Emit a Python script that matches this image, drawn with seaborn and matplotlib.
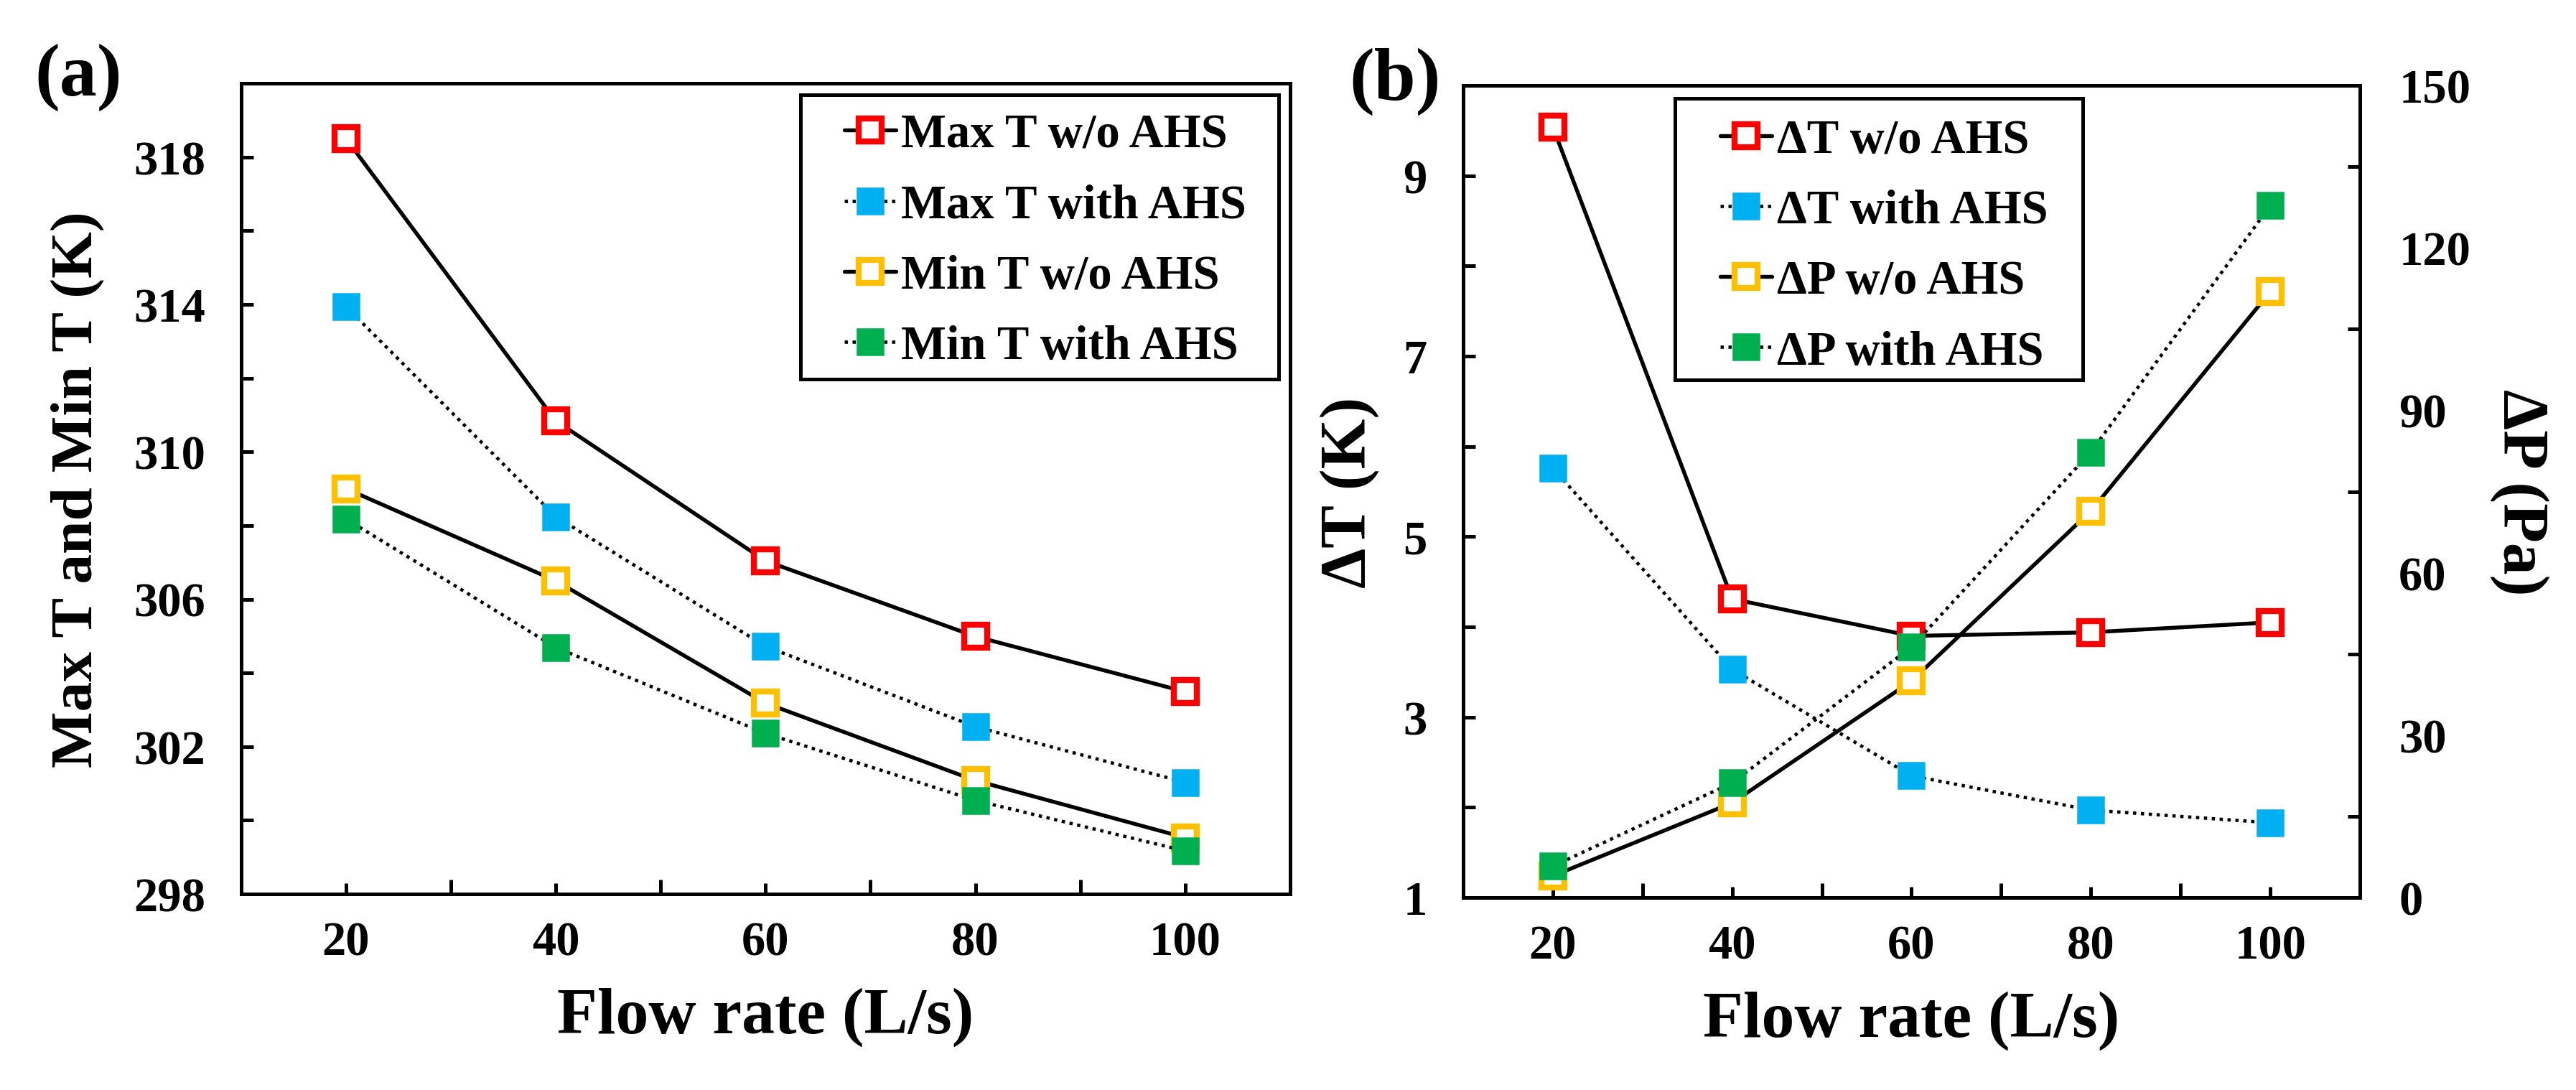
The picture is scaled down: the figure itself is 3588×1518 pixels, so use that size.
import matplotlib
matplotlib.use("Agg")
import matplotlib.pyplot as plt
from matplotlib.patches import Rectangle
from matplotlib.ticker import MultipleLocator, FixedLocator
import seaborn as sns

# debit (L/s)
flow = [20, 40, 60, 80, 100]

# (a) temperatures max et min (K)
maxT_wo = [318.50, 310.84, 307.04, 304.99, 303.49]
maxT_with = [313.94, 308.24, 304.72, 302.54, 301.03]
minT_wo = [309.00, 306.50, 303.18, 301.08, 299.53]
minT_with = [308.18, 304.69, 302.36, 300.54, 299.17]

# (b) ecart de temperature (K) et perte de charge (Pa)
dT_wo = [9.54, 4.31, 3.90, 3.94, 4.05]
dT_with = [5.76, 3.53, 2.35, 1.97, 1.83]
dP_wo = [4.0, 17.5, 40.0, 71.4, 111.9]
dP_with = [5.8, 21.2, 46.3, 82.3, 127.8]

lab_a = ["Max T w/o AHS", "Max T with AHS", "Min T w/o AHS", "Min T with AHS"]
lab_b = ["\u0394T w/o AHS", "\u0394T with AHS", "\u0394P w/o AHS", "\u0394P with AHS"]
couleurs = ["#FF0000", "#00B0F0", "#FFC000", "#00B050"]

sns.set_style("ticks")
plt.rcParams["font.family"] = ["Liberation Serif", "DejaVu Serif"]
plt.rcParams["font.weight"] = "bold"
plt.rcParams["axes.labelweight"] = "bold"
plt.rcParams["text.color"] = "black"
plt.rcParams["axes.labelcolor"] = "black"
plt.rcParams["xtick.color"] = "black"
plt.rcParams["ytick.color"] = "black"
plt.rcParams["axes.edgecolor"] = "black"
plt.rcParams["axes.linewidth"] = 1.2


#On trace une serie : carre vide + trait plein, ou carre plein + pointilles
def serie(ax, y, lab, col, vide):
    if vide:
        sns.lineplot(x=flow, y=y, ax=ax, color="black", lw=1.3, linestyle="-",
                     marker="s", ms=7.6, mfc="white", mec=col, mew=2.0, label=lab)
    else:
        sns.lineplot(x=flow, y=y, ax=ax, color="black", lw=1.1, linestyle=(0, (1, 1.4)),
                     marker="s", ms=8.6, mfc=col, mec=col, mew=0.6, label=lab)


def reglage_x(ax):
    ax.set_xlim(10, 110)
    ax.set_xticks(flow)
    ax.xaxis.set_minor_locator(FixedLocator([30, 50, 70, 90]))
    ax.tick_params(axis="x", which="major", direction="in", length=3.6, width=1.2,
                   labelsize=16, pad=9)
    ax.tick_params(axis="x", which="minor", direction="in", length=4.8, width=1.2)
    ax.set_xlabel("Flow rate (L/s)", fontsize=22, labelpad=7.5)


def cadre_legende(ax, x0, y0, w, h):
    ax.add_patch(Rectangle((x0, y0), w, h, transform=ax.transAxes, facecolor="white",
                           edgecolor="black", lw=1.2, zorder=4))


leg_kw = dict(loc="upper left", frameon=False, fontsize=16, borderpad=0, borderaxespad=0,
              labelspacing=0.556, handlelength=1.08, handletextpad=0.1)

fig = plt.figure(figsize=(11.96, 5.063), dpi=300)

# ---- (a)
ax = fig.add_axes([0.0936, 0.1797, 0.4072, 0.7433])
for y, lab, col, vide in zip([maxT_wo, maxT_with, minT_wo, minT_with], lab_a, couleurs,
                             [True, False, True, False]):
    serie(ax, y, lab, col, vide)
reglage_x(ax)
ax.set_ylim(298, 320)
ax.set_yticks([298, 302, 306, 310, 314, 318])
ax.yaxis.set_minor_locator(MultipleLocator(2))
ax.tick_params(axis="y", which="both", direction="in", length=4, width=1.2,
               labelsize=16, pad=12)
ax.set_ylabel("Max T and Min T (K)", fontsize=20, labelpad=9.5)
cadre_legende(ax, 0.533, 0.635, 0.456, 0.351)
ax.legend(bbox_to_anchor=(0.575, 0.963), **leg_kw).set_zorder(5)

# ---- (b)
bx = fig.add_axes([0.568, 0.1764, 0.3481, 0.7446])
bx2 = bx.twinx()
serie(bx, dT_wo, lab_b[0], couleurs[0], True)
serie(bx, dT_with, lab_b[1], couleurs[1], False)
serie(bx2, dP_wo, lab_b[2], couleurs[2], True)
serie(bx2, dP_with, lab_b[3], couleurs[3], False)
reglage_x(bx)
bx.set_ylim(1, 10)
bx.set_yticks([1, 3, 5, 7, 9])
bx.yaxis.set_minor_locator(MultipleLocator(1))
bx.tick_params(axis="y", which="both", direction="in", length=4, width=1.2,
               labelsize=16, pad=12)
bx.set_ylabel("\u0394T (K)", fontsize=21.5, labelpad=8)
bx2.set_ylim(0, 150)
bx2.set_yticks([0, 30, 60, 90, 120, 150])
bx2.yaxis.set_minor_locator(MultipleLocator(15))
bx2.tick_params(axis="y", which="major", direction="in", length=0, labelsize=16, pad=13)
bx2.tick_params(axis="y", which="minor", direction="in", length=4, width=1.2)
bx2.set_ylabel("\u0394P (Pa)", fontsize=21.5, rotation=270, va="bottom", labelpad=6.5)

h1, l1 = bx.get_legend_handles_labels()
h2, l2 = bx2.get_legend_handles_labels()
if bx.get_legend() is not None:
    bx.get_legend().remove()
cadre_legende(bx2, 0.236, 0.638, 0.455, 0.346)
bx2.legend(h1 + h2, l1 + l2, bbox_to_anchor=(0.287, 0.959), **leg_kw).set_zorder(5)

fig.text(109 / 3588, 1 - 108 / 1519, "(a)", fontsize=25, fontweight="bold",
         ha="center", va="center")
fig.text(1943 / 3588, 1 - 114 / 1519, "(b)", fontsize=25, fontweight="bold",
         ha="center", va="center")

fig.savefig("out.png", dpi=300)
